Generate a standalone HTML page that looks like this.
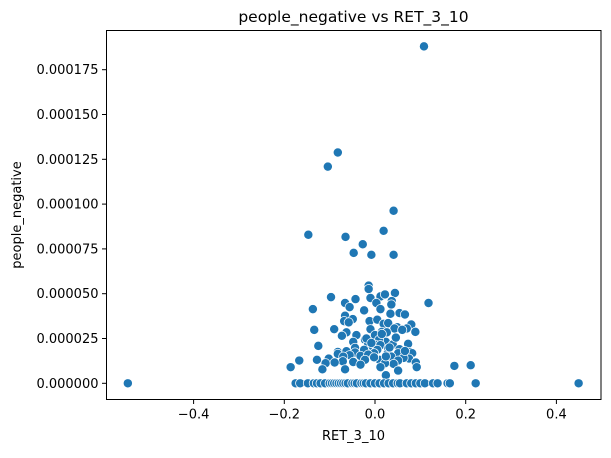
<!DOCTYPE html>
<html><head><meta charset="utf-8"><style>
body{margin:0;background:#fff;font-family:"Liberation Sans","DejaVu Sans",sans-serif;}
svg text{font-family:"DejaVu Sans","Liberation Sans",sans-serif;fill:#000;}
</style></head><body>
<svg id="chart" width="611" height="453" xmlns="http://www.w3.org/2000/svg">
<g id="marks"></g>
<g id="axes"></g>
</svg>
<script>
const xs = [0.108,-0.082,-0.104,0.041,-0.147,-0.065,0.019,-0.027,-0.047,-0.008,0.041,-0.014,-0.014,-0.097,-0.043,-0.010,0.012,0.022,0.044,0.118,-0.066,0.003,-0.056,0.037,0.036,-0.137,-0.024,0.012,0.054,0.066,0.034,-0.066,-0.049,-0.068,-0.058,-0.012,0.005,0.019,0.029,0.049,0.080,0.070,0.043,0.060,0.089,-0.134,-0.090,-0.063,-0.010,0.015,0.026,-0.073,-0.041,0,-0.022,-0.015,-0.048,0.024,0.009,0.039,0.073,-0.005,0,0.012,-0.125,-0.044,-0.024,0.005,0.029,0.054,-0.082,-0.063,-0.044,-0.002,0.051,0.077,0.082,-0.082,-0.056,-0.032,-0.015,0.027,0.036,-0.070,0.075,0.063,-0.128,-0.102,-0.167,-0.071,-0.022,0.010,0.051,-0.089,-0.109,-0.048,0.090,-0.032,0.041,0.022,-0.186,0.175,0.211,0.092,-0.116,-0.066,0.012,0.051,0.024,-0.019,-0.002,0.015,0.032,0.046,-0.008,0.024,0.066,
-0.545,0.449,0.222,-0.175,-0.165,-0.148,-0.135,-0.128,-0.12,-0.11,-0.1,-0.095,-0.09,-0.085,-0.08,-0.075,-0.07,-0.065,-0.06,-0.05,-0.045,-0.04,-0.03,-0.025,-0.02,-0.01,0,0.01,0.02,0.03,0.04,0.05,0.055,0.07,0.08,0.09,0.1,0.11,0.128,0.138,0.16,0.165];
const ys = [188,128.8,120.9,96.3,82.9,81.7,85.1,77.6,72.8,71.7,71.7,54.5,52.6,48.1,47.0,47.6,48.5,49.6,50.4,44.8,44.8,44.8,42.5,45.9,44.0,41.4,40.7,41.4,39.2,38.4,38.8,37.7,35.8,34.7,34.0,34.7,35.5,33.2,33.6,31.3,32.8,30.6,30.6,29.8,28.7,29.8,30.2,28.4,30.2,28.7,28.4,26.5,26.9,26.9,24.3,22.4,23.1,23.1,24.3,21.6,22.0,20.5,21.6,21.3,20.9,19.8,18.7,18.7,19.4,19.0,17.5,17.9,17.2,16.8,16.8,17.5,16.8,16.4,15.7,15.3,16.0,16.4,14.9,14.9,13.8,14.2,13.1,13.8,12.7,12.3,13.1,13.1,12.7,11.6,11.2,11.9,11.6,10.4,10.8,11.2,9.0,9.7,10.1,9.0,7.8,7.8,9.0,7.1,4.5,25.0,14.5,27.5,20.0,25.5,22.5,15.0,18.0,
0,0,0,0,0,0,0,0,0,0,0,0,0,0,0,0,0,0,0,0,0,0,0,0,0,0,0,0,0,0,0,0,0,0,0,0,0,0,0,0,0,0];
const xTicks = [-0.4,-0.2,0.0,0.2,0.4];
const xTickLabels = ["\u22120.4","\u22120.2","0.0","0.2","0.4"];
const yTicks = [0,25,50,75,100,125,150,175];
const yTickLabels = ["0.000000","0.000025","0.000050","0.000075","0.000100","0.000125","0.000150","0.000175"];

const L=106.5,R=601,T=30.5,B=399.5;
function sx(v){return 375+v*453.5;}
function sy(v){return 383.3-v*1.792;} // v in units of 1e-6
const NS="http://www.w3.org/2000/svg";
function mk(tag,attrs,parent){const e=document.createElementNS(NS,tag);for(const k in attrs)e.setAttribute(k,attrs[k]);parent.appendChild(e);return e;}
const marks=document.getElementById('marks');
for(let i=0;i<xs.length;i++){
  const c=mk('circle',{cx:sx(xs[i]),cy:sy(ys[i]),r:4.6,fill:'#1f77b4',stroke:'#ffffff','stroke-width':0.75},marks);
  
  
}
const ax=document.getElementById('axes');
const frame=mk('rect',{x:L,y:T,width:R-L,height:B-T,fill:'none',stroke:'#000','stroke-width':1},ax);


xTicks.forEach((v,i)=>{
  const x=sx(v);
  mk('line',{x1:x,x2:x,y1:B,y2:B+4.5,stroke:'#000','stroke-width':1},ax);
  const t=mk('text',{x:x,y:B+19,'font-size':13,'text-anchor':'middle'},ax);
  t.textContent=xTickLabels[i];
  
  
});
yTicks.forEach((v,i)=>{
  const y=sy(v);
  mk('line',{x1:L,x2:L-4.5,y1:y,y2:y,stroke:'#000','stroke-width':1},ax);
  const t=mk('text',{x:L-8,y:y+4.5,'font-size':13,'text-anchor':'end'},ax);
  t.textContent=yTickLabels[i];
  
  
});
const xt=mk('text',{x:353.5,y:440,'font-size':13,'text-anchor':'middle'},ax);
xt.textContent='RET_3_10';


const yt=mk('text',{x:0,y:0,'font-size':13,'text-anchor':'middle',transform:'translate(21,215) rotate(-90)'},ax);
yt.textContent='people_negative';


const tt=mk('text',{x:353.5,y:22,'font-size':15.5,'text-anchor':'middle'},ax);
tt.textContent='people_negative vs RET_3_10';


</script>
</body></html>
